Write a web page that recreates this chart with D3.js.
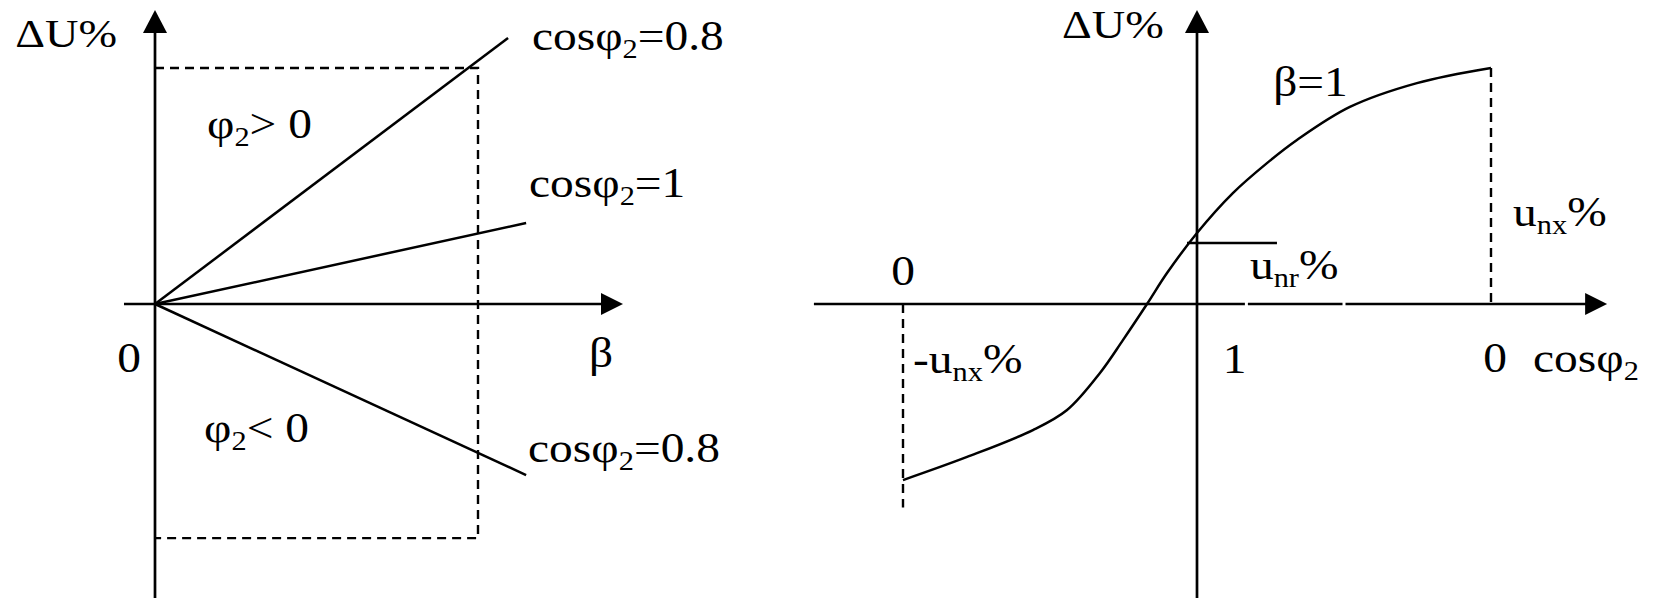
<!DOCTYPE html>
<html>
<head>
<meta charset="utf-8">
<script src="https://cdn.jsdelivr.net/npm/d3@7"></script>
<style>
  body { margin: 0; background: #fff; }
  text { font-family: "Liberation Serif", "Times New Roman", serif; fill: #000; }
</style>
</head>
<body>
<svg id="chart" width="1654" height="598"></svg>
<script>
// ---------- Left panel: voltage regulation ΔU% against load factor β ----------
const lineNames   = ["cosφ2=0.8 lag", "cosφ2=1", "cosφ2=0.8 lead"];
const lineEndBeta = [1.093, 1.149, 1.149];
const lineEndDU   = [1.127, 0.343, -0.725];
const ratedBeta   = 1;            // β = 1 reference (dashed box)
const boxDU       = [1, -0.992];  // top / bottom of the dashed box

// ---------- Right panel: ΔU% against cosφ2 at β = 1 ----------
// phase position: -1 → cosφ2 = 0 (leading), 0 → cosφ2 = 1, +1 → cosφ2 = 0 (lagging)
const phasePos = [-1, -0.782, -0.558, -0.442, -0.330, -0.252, -0.170, -0.102, 0, 0.122, 0.238, 0.340, 0.520, 0.748, 1];
const regDU    = [-0.746, -0.648, -0.534, -0.449, -0.292, -0.153, 0, 0.131, 0.301, 0.470, 0.597, 0.695, 0.835, 0.936, 1];
const unrLevel = 0.258;            // u_nr% marker level
const unrSpan  = [-0.034, 0.272];  // u_nr% marker extent
const axisBreaks = [0.168, 0.5];   // small breaks in the cosφ2 axis

// ---------- Text labels (anchor in each panel's data units) ----------
const leftLabels = [
  { t: "ΔU%",        x: -0.433, y: 1.089, size: 41 },
  { t: "cosφ{2}=0.8", x: 1.167, y: 1.076, size: 42 },
  { t: "cosφ{2}=1",   x: 1.158, y: 0.453, size: 42 },
  { t: "φ{2}> 0",     x: 0.161, y: 0.703, size: 42 },
  { t: "0",          x: -0.080, y: -0.288, size: 42, anchor: "middle" },
  { t: "β",          x: 1.344, y: -0.267, size: 42 },
  { t: "φ{2}< 0",     x: 0.152, y: -0.585, size: 42 },
  { t: "cosφ{2}=0.8", x: 1.155, y: -0.669, size: 42 }
];
const rightLabels = [
  { t: "ΔU%",        x: -0.459, y: 1.127, size: 41 },
  { t: "β=1",        x: 0.259, y: 0.881, size: 42 },
  { t: "u{nx}%",     x: 1.075, y: 0.331, size: 42 },
  { t: "u{nr}%",     x: 0.180, y: 0.106, size: 42 },
  { t: "0",          x: -1.0,  y: 0.081, size: 42, anchor: "middle" },
  { t: "-u{nx}%",    x: -0.966, y: -0.292, size: 42 },
  { t: "1",          x: 0.088, y: -0.292, size: 42 },
  { t: "0",          x: 1.014, y: -0.288, size: 42, anchor: "middle" },
  { t: "cosφ{2}",     x: 1.143, y: -0.288, size: 42 }
];

const svg = d3.select("#chart");
const stretch = 1.13;

// shared vertical scale: ΔU% = 1 at the dashed reference level
const yScale = d3.scaleLinear().domain([0, 1]).range([304, 68]);
const xLeft  = d3.scaleLinear().domain([0, 1]).range([155, 478]);
const xRight = d3.scaleLinear().domain([-1, 1]).range([903, 1491]);
const yExtent = [-1.246, 1.246];

const axisW = 2.7, markW = 2.5, dashW = 2.4, dash = "9,6";

function arrowUp(g, x, yTip) {
  g.append("path").attr("d", `M${x},${yTip}L${x - 12},${yTip + 23}L${x + 12},${yTip + 23}Z`).attr("fill", "#000");
}
function arrowRight(g, xTip, y) {
  g.append("path").attr("d", `M${xTip},${y}L${xTip - 22},${y - 11}L${xTip - 22},${y + 11}Z`).attr("fill", "#000");
}

function drawLabel(g, d, xs) {
  const size = d.size;
  const txt = g.append("text")
    .attr("transform", `translate(${xs(d.x)},${yScale(d.y)}) scale(${stretch},1)`)
    .attr("font-size", size)
    .attr("text-anchor", d.anchor || "start");
  const parts = d.t.split(/(\{[^}]*\})/).filter(s => s.length);
  let shifted = false;
  parts.forEach(p => {
    if (p[0] === "{") {
      txt.append("tspan").text(p.slice(1, -1))
        .attr("font-size", size * 0.64).attr("dy", size * 0.2);
      shifted = true;
    } else {
      const ts = txt.append("tspan").text(p);
      if (shifted) { ts.attr("dy", -size * 0.2); shifted = false; }
    }
  });
}

// ===== Left panel =====
const L = svg.append("g");
const xl0 = xLeft(-0.096), xl1 = xLeft(1.449);
// dashed β = 1 box
L.append("path")
  .attr("d", `M${xLeft(0)},${yScale(boxDU[0])}H${xLeft(ratedBeta)}V${yScale(boxDU[1])}H${xLeft(0)}`)
  .attr("fill", "none").attr("stroke", "#000").attr("stroke-width", dashW).attr("stroke-dasharray", dash);
// axes
L.append("line").attr("x1", xl0).attr("x2", xl1 - 20).attr("y1", yScale(0)).attr("y2", yScale(0))
  .attr("stroke", "#000").attr("stroke-width", axisW);
L.append("line").attr("x1", xLeft(0)).attr("x2", xLeft(0)).attr("y1", yScale(yExtent[0])).attr("y2", yScale(yExtent[1]) + 20)
  .attr("stroke", "#000").attr("stroke-width", axisW);
arrowRight(L, xl1, yScale(0));
arrowUp(L, xLeft(0), yScale(yExtent[1]));
// regulation lines
const lineGen = d3.line();
lineNames.forEach((n, i) => {
  L.append("path")
    .attr("d", lineGen([[xLeft(0), yScale(0)], [xLeft(lineEndBeta[i]), yScale(lineEndDU[i])]]))
    .attr("fill", "none").attr("stroke", "#000").attr("stroke-width", markW);
});
leftLabels.forEach(d => drawLabel(L, d, xLeft));

// ===== Right panel =====
const R = svg.append("g");
const xr0 = xRight(-1.303), xr1 = xRight(1.395);
// dashed drops at cosφ2 = 0 on each side
R.append("line").attr("x1", xRight(-1)).attr("x2", xRight(-1)).attr("y1", yScale(0)).attr("y2", yScale(-0.862))
  .attr("stroke", "#000").attr("stroke-width", dashW).attr("stroke-dasharray", dash);
R.append("line").attr("x1", xRight(1)).attr("x2", xRight(1)).attr("y1", yScale(1)).attr("y2", yScale(0))
  .attr("stroke", "#000").attr("stroke-width", dashW).attr("stroke-dasharray", dash);
// horizontal axis drawn in pieces with small breaks
const segEdges = [xr0, ...axisBreaks.flatMap(b => [xRight(b) - 1.5, xRight(b) + 1.5]), xr1 - 20];
for (let i = 0; i < segEdges.length; i += 2) {
  R.append("line").attr("x1", segEdges[i]).attr("x2", segEdges[i + 1]).attr("y1", yScale(0)).attr("y2", yScale(0))
    .attr("stroke", "#000").attr("stroke-width", axisW);
}
arrowRight(R, xr1, yScale(0));
R.append("line").attr("x1", xRight(0)).attr("x2", xRight(0)).attr("y1", yScale(yExtent[0])).attr("y2", yScale(yExtent[1]) + 20)
  .attr("stroke", "#000").attr("stroke-width", axisW);
arrowUp(R, xRight(0), yScale(yExtent[1]));
// u_nr% marker
R.append("line").attr("x1", xRight(unrSpan[0])).attr("x2", xRight(unrSpan[1]))
  .attr("y1", yScale(unrLevel)).attr("y2", yScale(unrLevel))
  .attr("stroke", "#000").attr("stroke-width", markW);
// β = 1 regulation curve
const curve = d3.line().x((d, i) => xRight(phasePos[i])).y(d => yScale(d)).curve(d3.curveCatmullRom.alpha(0.5));
R.append("path").attr("d", curve(regDU)).attr("fill", "none").attr("stroke", "#000").attr("stroke-width", markW);
rightLabels.forEach(d => drawLabel(R, d, xRight));
</script>
</body>
</html>
